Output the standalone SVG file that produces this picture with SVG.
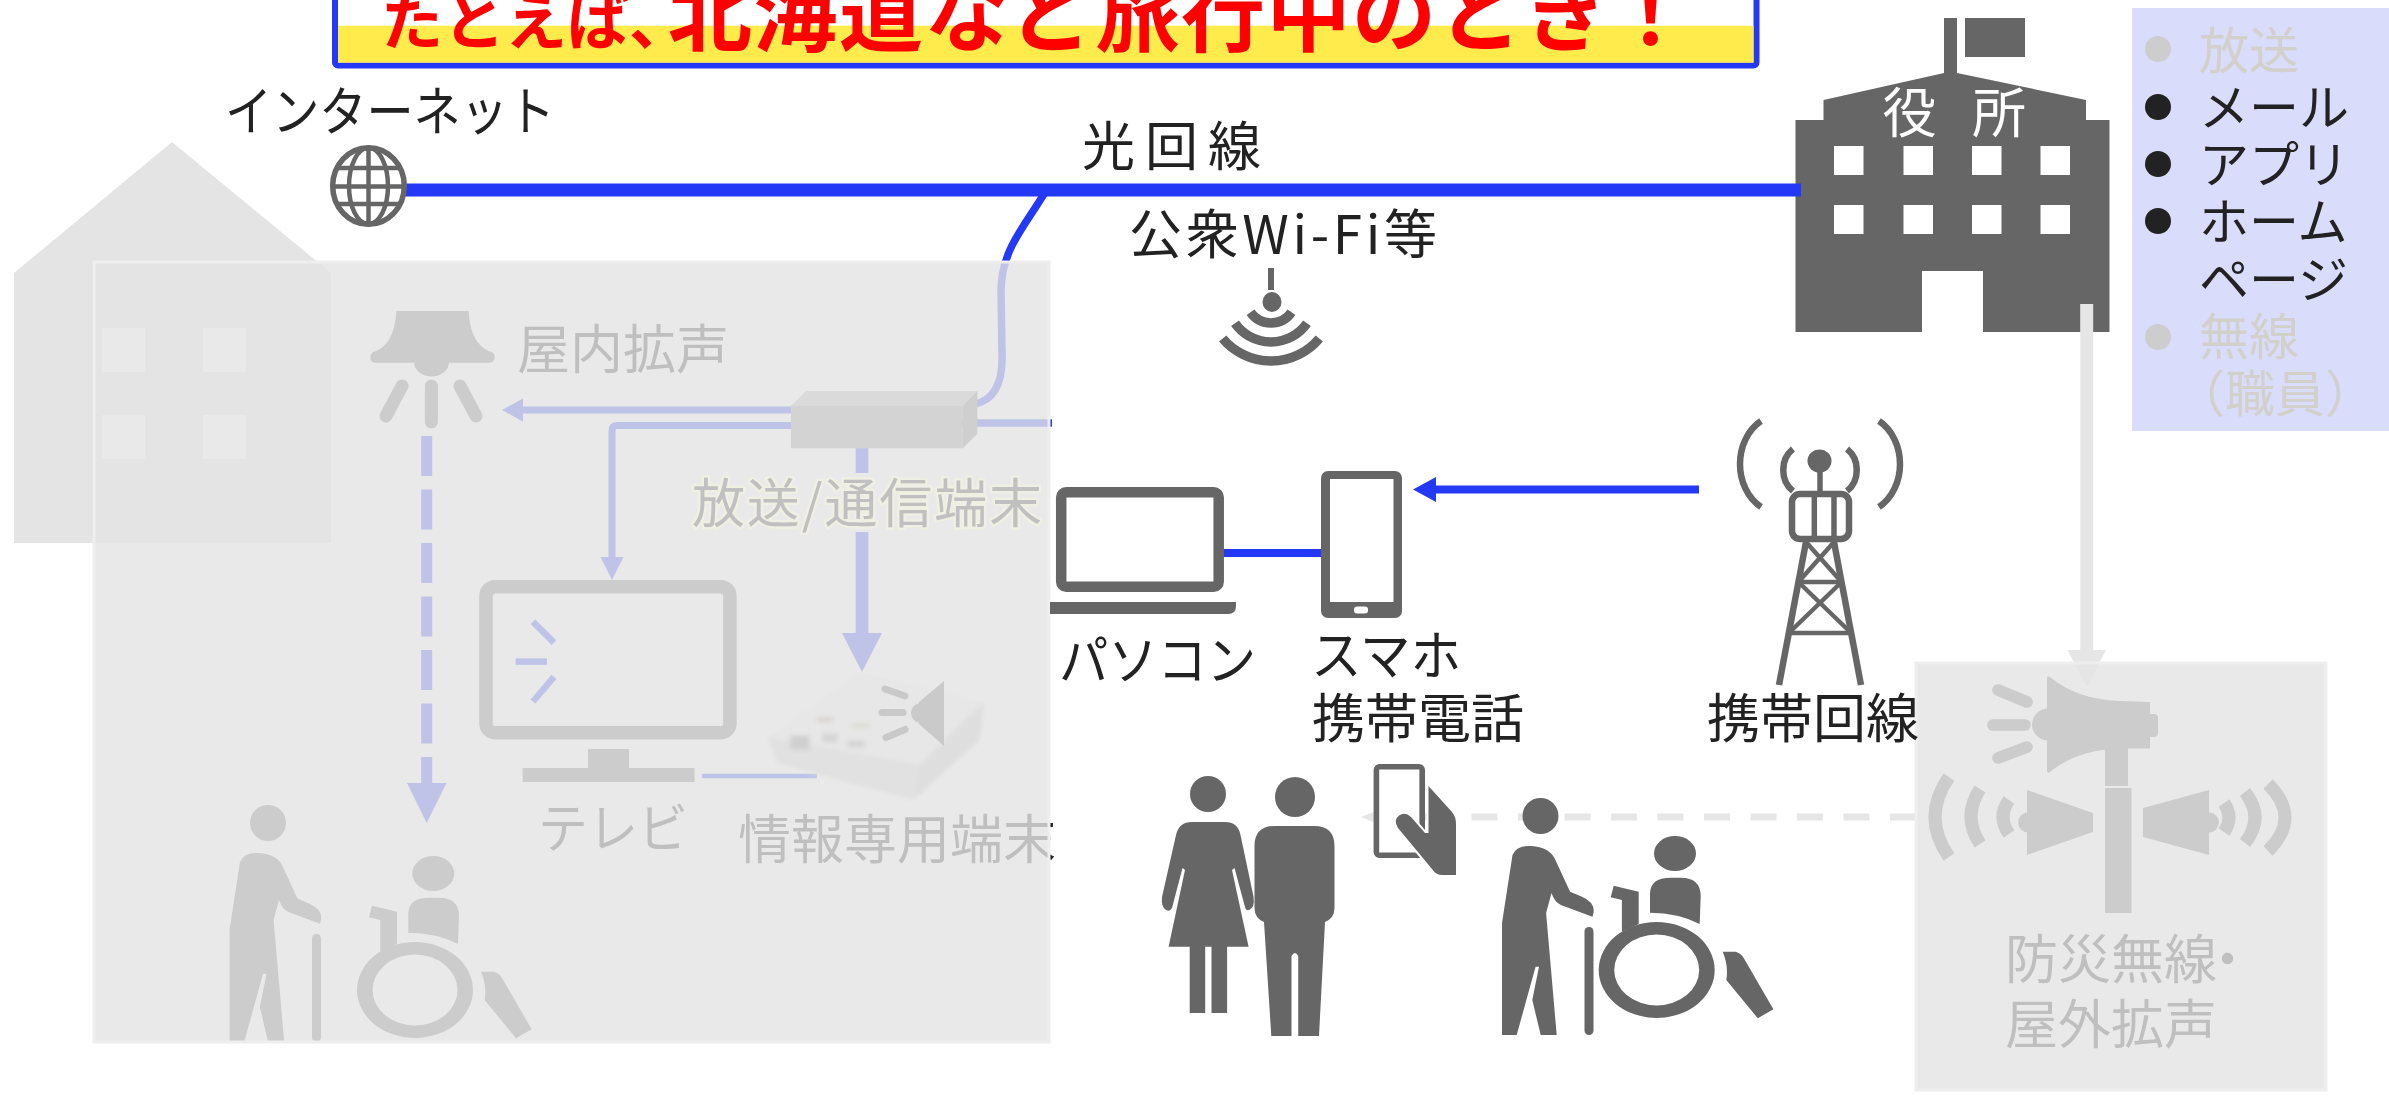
<svg xmlns="http://www.w3.org/2000/svg" xmlns:xlink="http://www.w3.org/1999/xlink" width="2389" height="1096" viewBox="0 0 2389 1096">
  <style>
    .ic{fill:#666}
    .wh{fill:#fff}
    .lbl{font-family:"Noto Sans CJK JP","Noto Sans",sans-serif;font-size:53px;fill:#222}
    .lbl-soft{font-family:"Noto Sans CJK JP","Noto Sans",sans-serif;font-size:53px;fill:#C0C0C0;stroke:#EFEFE4;stroke-width:5px;stroke-linejoin:round;paint-order:stroke}
    .blue{stroke:#2339F5;fill:none}
    .grey{stroke:#E6E6E6;fill:none}
    .veil{fill:#E4E4E4;fill-opacity:.81;stroke:#EEEEEE;stroke-width:3}
    .dim{fill:#D2D0CB}
    .ico-line{fill:none;stroke:#666}
    .ico-line-dk{fill:none;stroke:#565656}
  </style>
  <defs>
    <filter id="soft" x="-10%" y="-10%" width="120%" height="120%">
      <feGaussianBlur stdDeviation="2.2"/>
    </filter>
    <!-- walking senior with cane, origin = head centre -->
    <g id="elder">
      <ellipse cx="0" cy="0" rx="18" ry="18"/>
      <path d="M-38.5,219 L-38.5,107 L-28,39 Q-24,29 -9,30 Q8,31 14,42 L29.6,75.7 L41.5,80.7 Q54,86 53.2,96 L52,100.7 L20.4,89 Q14,86 11,77 L5.6,97 L16.2,219 L0.2,219 L-8.2,184 L-1.5,150.7 L-4.9,150.7 L-23.8,219 Z"/>
      <rect x="44" y="111" width="9" height="108" rx="4.5"/>
    </g>
    <!-- wheelchair user, origin = wheel centre -->
    <g id="wheelchair">
      <ellipse cx="18.3" cy="-116.5" rx="21" ry="17.5"/>
      <path d="M-6.7,-57.3 L-6.7,-76 Q-6.7,-92.3 14,-92.3 L24,-92.3 Q44,-92.3 44,-74 L43,-46 Q22,-57 -6.7,-57.3 Z"/>
      <path d="M-43,-84.3 L-18,-78.3 L-18,-46 L-34.8,-38.3 L-34.8,-70 L-46,-72.7 Z"/>
      <path fill-rule="evenodd" d="M-58,0 A58,48 0 1,0 58,0 A58,48 0 1,0 -58,0 Z M-42.5,0 A42.5,35.5 0 1,0 42.5,0 A42.5,35.5 0 1,0 -42.5,0 Z"/>
      <path d="M66,-18.3 L79,-18.3 Q84,-17 87,-12 L116.7,39.3 L101.1,48.3 L69.6,10 Q72,-4 66,-18.3 Z"/>
    </g>
  </defs>

  <rect width="2389" height="1096" fill="#fff"/>

  <!-- headline banner -->
  <g id="title">
    <rect x="335" y="-10" width="1421.5" height="75.4" rx="3" fill="#fff" stroke="#2339F5" stroke-width="6"/>
    <rect x="338" y="25.7" width="1415.5" height="37" fill="#FFEB4B"/>
    <text x="381" y="45" font-family="'Noto Sans CJK JP','Noto Sans',sans-serif" font-weight="700" fill="#FF0000" font-size="62">たとえば<tspan x="629">、</tspan><tspan x="668" font-size="84" letter-spacing="1.5">北海道など旅行中のとき！</tspan></text>
  </g>

  <!-- delivery channel list -->
  <g id="channel-list">
    <rect x="2132" y="8" width="257" height="423" fill="#D9DCFA"/>
    <circle cx="2158" cy="49" r="13" fill="#CDCDCD"/>
    <circle cx="2158" cy="107" r="13" fill="#222"/>
    <circle cx="2158" cy="164" r="13" fill="#222"/>
    <circle cx="2158" cy="221" r="13" fill="#222"/>
    <circle cx="2158" cy="337" r="13" fill="#CDCDCD"/>
    <g font-family="'Noto Sans CJK JP','Noto Sans',sans-serif" font-size="50">
      <text x="2199" y="68.5" class="dim">放送</text>
      <text x="2199" y="125.8" fill="#222">メール</text>
      <text x="2199" y="183" fill="#222">アプリ</text>
      <text x="2199" y="240.3" fill="#222">ホーム</text>
      <text x="2199" y="297.6" fill="#222">ページ</text>
      <text x="2199" y="355" class="dim">無線</text>
      <text x="2175" y="412.2" class="dim">（職員）</text>
    </g>
  </g>

  <!-- town hall -->
  <g id="town-hall">
    <rect x="1944" y="18" width="13" height="56" class="ic"/>
    <rect x="1965" y="18" width="60" height="39" class="ic"/>
    <path class="ic" d="M1795.5,120 L1823.5,120 L1823.5,100 L1944,73 L1957,73 L2086,100 L2086,120 L2109.5,120 L2109.5,332 L1983,332 L1983,271 L1922,271 L1922,332 L1795.5,332 Z"/>
    <g class="wh">
      <rect x="1834" y="146" width="29.5" height="29"/>
      <rect x="1903.5" y="146" width="29.5" height="29"/>
      <rect x="1972" y="146" width="29.5" height="29"/>
      <rect x="2040.5" y="146" width="29.5" height="29"/>
      <rect x="1834" y="205" width="29.5" height="29"/>
      <rect x="1903.5" y="205" width="29.5" height="29"/>
      <rect x="1972" y="205" width="29.5" height="29"/>
      <rect x="2040.5" y="205" width="29.5" height="29"/>
    </g>
    <g font-family="'Noto Sans CJK JP','Noto Sans',sans-serif" font-size="54" fill="#fff" text-anchor="middle">
      <text x="1909.5" y="133">役</text>
      <text x="1999" y="133">所</text>
    </g>
  </g>

  <!-- house silhouette (behind the veiled home area) -->
  <g id="house">
    <path d="M172,142 L331,273 L331,543 L14,543 L14,273 Z" fill="#E4E4E4"/>
    <g class="wh">
      <rect x="102" y="328" width="43" height="44"/>
      <rect x="203" y="328" width="43" height="44"/>
      <rect x="102" y="415" width="43" height="44"/>
      <rect x="203" y="415" width="43" height="44"/>
    </g>
  </g>

  <!-- connectors -->
  <g id="connectors">
    <line class="blue" x1="405" y1="190" x2="1801" y2="190" stroke-width="13"/>
    <path class="blue" d="M1044,194 C1022,230 1002,250 1001,290 L1002,352 Q1004,398 975,404" stroke-width="7.5"/>
    <line class="blue" x1="962" y1="423" x2="1052" y2="423" stroke-width="7.5"/>
    <line class="blue" x1="795" y1="410" x2="520" y2="410" stroke-width="7"/>
    <polygon points="502,410 523,398.5 523,421.5" fill="#2339F5"/>
    <path class="blue" d="M795,425.5 H617 Q612,425.5 612,431 V561" stroke-width="7"/>
    <polygon points="612,580 600.5,557 623.5,557" fill="#2339F5"/>
    <line class="blue" x1="862" y1="445" x2="862" y2="636" stroke-width="12.7"/>
    <polygon points="862,672 842,633 882,633" fill="#2339F5"/>
    <line class="blue" x1="426.7" y1="436" x2="426.7" y2="784" stroke-width="11" stroke-dasharray="40 13.5"/>
    <polygon points="426.7,823 407,783 446.5,783" fill="#2339F5"/>
    <line class="blue" x1="702" y1="776" x2="817" y2="776" stroke-width="4.5"/>
    <line class="blue" x1="1699" y1="489.5" x2="1432" y2="489.5" stroke-width="8"/>
    <polygon points="1413,489.5 1436,477 1436,502" fill="#2339F5"/>
    <line class="blue" x1="1219" y1="553" x2="1325" y2="553" stroke-width="8"/>
    <line class="grey" x1="2086.7" y1="304" x2="2086.7" y2="652" stroke-width="13"/>
    <polygon points="2067.5,650 2106,650 2086.7,687" fill="#E6E6E6"/>
    <line class="grey" x1="1916" y1="817" x2="1385" y2="817" stroke-width="7" stroke-dasharray="26 20.5"/>
    <polygon points="1361,817 1392,804.5 1392,829.5" fill="#E6E6E6"/>
  </g>

  <!-- home area (shown veiled) -->
  <g id="home-area">
    <g id="indoor-speaker">
      <path class="ic" d="M396.4,311 H468.6 C470,335 478,348 492,352 Q495,354 494.6,358 Q494,362.7 489,362.7 H376 Q370.4,362.7 370.4,358 Q370.4,354 373,352 C387,348 395,335 396.4,311 Z"/>
      <path class="ic" d="M414,362 A17.5,14.5 0 0,0 449,362 Z"/>
      <g class="ico-line" stroke-width="13" stroke-linecap="round">
        <line x1="386" y1="416" x2="402" y2="386"/>
        <line x1="431.4" y1="386" x2="431.4" y2="422"/>
        <line x1="476" y1="416" x2="460" y2="386"/>
      </g>
      <text class="lbl" x="517" y="369">屋内拡声</text>
    </g>
    <g id="gateway">
      <polygon points="791,405.7 806,391 977.3,391 962.7,405.7" fill="#B0B0B0"/>
      <rect x="791" y="405.7" width="171.7" height="42.6" fill="#8C8C8C"/>
      <polygon points="962.7,405.7 977.3,391 977.3,434 962.7,448.3" fill="#737373"/>
      <rect x="690" y="473" width="355" height="59" fill="#fff"/>
    </g>
    <g id="tv">
      <rect x="486" y="586.7" width="243.9" height="146" rx="9" class="ico-line" stroke-width="13.5"/>
      <rect x="588" y="749" width="41" height="20" class="ic"/>
      <rect x="522.6" y="768" width="172" height="14" class="ic"/>
      <g class="blue" stroke-width="6.5">
        <line x1="533" y1="621.7" x2="554" y2="642.6"/>
        <line x1="515.6" y1="661.6" x2="547" y2="661.6"/>
        <line x1="554" y1="676.8" x2="533" y2="701.5"/>
      </g>
      <text class="lbl" x="538" y="848" textLength="150" lengthAdjust="spacingAndGlyphs">テレビ</text>
    </g>
    <g id="info-terminal">
      <g filter="url(#soft)">
        <polygon points="768,737 860,672 984,702 920,765" fill="#F2F2F2"/>
        <polygon points="768,737 920,765 913,800 777,763" fill="#D2D2D2"/>
        <polygon points="920,765 984,702 980,740 913,800" fill="#C4C4C4"/>
        <rect x="790" y="735" width="20" height="15" fill="#7B7B7B"/>
        <rect x="822" y="733" width="16" height="10" fill="#9A9A9A"/>
        <rect x="847" y="740" width="18" height="8" fill="#9A9A9A"/>
        <rect x="817" y="717" width="16" height="5" fill="#C07070"/>
        <rect x="852" y="723" width="18" height="5" fill="#B9B97D"/>
      </g>
      <g fill="#5A5A5A">
        <circle cx="921" cy="713" r="10"/>
        <polygon points="919,702 944,681 944,746 919,724"/>
      </g>
      <g class="ico-line-dk" stroke-width="7" stroke-linecap="round">
        <line x1="885" y1="689" x2="905" y2="696"/>
        <line x1="882" y1="712.5" x2="903" y2="712.5"/>
        <line x1="886" y1="737.5" x2="905" y2="729.5"/>
      </g>
      <text class="lbl" x="738" y="859">情報専用端末</text>
    </g>
    <g id="home-residents" class="ic">
      <use xlink:href="#elder" href="#elder" transform="translate(268,823)"/>
      <use xlink:href="#wheelchair" href="#wheelchair" transform="translate(415,990)"/>
    </g>
  </g>
  <rect id="home-veil" class="veil" x="94" y="262" width="955" height="780"/>
  <text id="gateway-label" class="lbl-soft" x="692" y="523" textLength="350" lengthAdjust="spacing">放送/通信端末</text>

  <!-- outdoor loudspeaker (shown veiled) -->
  <g id="outdoor-speaker">
    <g class="ico-line" stroke-width="11.7" stroke-linecap="round">
      <line x1="1998" y1="690" x2="2027" y2="702"/>
      <line x1="1993" y1="725" x2="2025" y2="725"/>
      <line x1="1998" y1="758" x2="2027" y2="747"/>
    </g>
    <path class="ic" d="M2047,678 Q2047,675 2050,677 C2067,691 2090,700 2120,701 L2150,702 L2150,714 L2154,714 Q2158,714 2158,718 L2158,733 Q2158,737 2154,737 L2150,737 L2150,748.5 L2120,748.5 C2090,749.5 2067,758 2050,772 Q2047,774 2047,771 Z"/>
    <circle cx="2048" cy="724.5" r="16" class="ic"/>
    <rect x="2105" y="748" width="23" height="38" class="ic"/>
    <rect x="2105" y="788" width="26.5" height="125" class="ic"/>
    <polygon points="2027,790 2093,813 2093,832 2027,855" class="ic"/>
    <circle cx="2028" cy="822.5" r="10" class="ic"/>
    <polygon points="2209,790 2143,808 2143,837 2209,855" class="ic"/>
    <circle cx="2209" cy="822.5" r="10" class="ic"/>
    <g class="ico-line" stroke-width="13">
      <path d="M2009,800 Q1997,817 2009,834"/>
      <path d="M1980,789 Q1962,816.5 1980,844"/>
      <path d="M1949,777 Q1921,817 1949,857"/>
      <path d="M2224,803 Q2234,817.5 2224,832"/>
      <path d="M2245,792 Q2265,817.5 2245,843"/>
      <path d="M2268,784 Q2302,817.5 2268,851"/>
    </g>
    <text class="lbl" x="2005" y="979">防災無線<tspan dx="-16">・</tspan></text>
    <text class="lbl" x="2005" y="1044">屋外拡声</text>
  </g>
  <rect id="outdoor-veil" class="veil" x="1916" y="663" width="410" height="427"/>

  <!-- internet -->
  <g id="internet">
    <g class="ico-line">
      <ellipse cx="368.5" cy="186" rx="35.8" ry="38.3" stroke-width="5.5"/>
      <ellipse cx="368.5" cy="186" rx="19.5" ry="38.3" stroke-width="4.5"/>
      <line x1="368.5" y1="148" x2="368.5" y2="224" stroke-width="4.5"/>
      <line x1="337" y1="168" x2="400" y2="168" stroke-width="4.5"/>
      <line x1="333" y1="186.5" x2="404" y2="186.5" stroke-width="4.5"/>
      <line x1="337" y1="204" x2="400" y2="204" stroke-width="4.5"/>
    </g>
    <text class="lbl" x="225" y="131" textLength="330" lengthAdjust="spacingAndGlyphs">インターネット</text>
  </g>

  <text id="fiber-label" class="lbl" x="1082" y="166" letter-spacing="10">光回線</text>

  <!-- public Wi-Fi -->
  <g id="public-wifi">
    <text class="lbl" x="1129" y="254" textLength="308" lengthAdjust="spacing">公衆Wi-Fi等</text>
    <line x1="1271" y1="268" x2="1271" y2="290" class="ico-line" stroke-width="6"/>
    <ellipse cx="1272" cy="302" rx="9.5" ry="10" class="ic"/>
    <g class="ico-line" stroke-width="9.5">
      <path d="M1250.5,312.3 A25,25 0 0,0 1291.5,312.3"/>
      <path d="M1235,323.3 A44,44 0 0,0 1307,323.3"/>
      <path d="M1222.7,338.5 A63,63 0 0,0 1319.3,338.5"/>
    </g>
  </g>

  <!-- PC -->
  <g id="pc">
    <rect x="1061.2" y="492.3" width="157.5" height="94.5" rx="5" fill="#fff" stroke="#666" stroke-width="10.5"/>
    <path class="ic" d="M1050,602 H1236 V606 Q1236,614 1228,614 H1050 Z"/>
    <text class="lbl" x="1059" y="680" textLength="197" lengthAdjust="spacingAndGlyphs">パソコン</text>
  </g>

  <!-- smartphone -->
  <g id="smartphone">
    <rect x="1321" y="471" width="81" height="147" rx="7" class="ic"/>
    <rect x="1330" y="479" width="63.5" height="123" class="wh"/>
    <rect x="1354" y="606.5" width="14" height="7" rx="3" class="wh"/>
    <text class="lbl" x="1311" y="675" textLength="150" lengthAdjust="spacingAndGlyphs">スマホ</text>
    <text class="lbl" x="1312" y="738">携帯電話</text>
  </g>

  <!-- mobile base station -->
  <g id="cell-tower">
    <g class="ico-line" stroke-width="6.5">
      <path d="M1761,421 C1733,440 1733,488 1761,507"/>
      <path d="M1793,449 C1780,459 1780,481 1793,491"/>
      <path d="M1879,421 C1907,440 1907,488 1879,507"/>
      <path d="M1847,449 C1860,459 1860,481 1847,491"/>
      <rect x="1792" y="494" width="57" height="45" rx="8"/>
      <line x1="1779" y1="685" x2="1806" y2="542"/>
      <line x1="1861" y1="685" x2="1834" y2="542"/>
    </g>
    <ellipse cx="1819.5" cy="461" rx="12" ry="11.5" class="ic"/>
    <g class="ico-line" stroke-width="5.5">
      <line x1="1820" y1="470" x2="1820" y2="494"/>
      <line x1="1814.3" y1="494" x2="1814.3" y2="539"/>
      <line x1="1834" y1="494" x2="1834" y2="539"/>
    </g>
    <g class="ico-line" stroke-width="4.5">
      <line x1="1806" y1="542" x2="1841.6" y2="582"/>
      <line x1="1834" y1="542" x2="1798.4" y2="582"/>
      <line x1="1798.4" y1="582" x2="1841.6" y2="582"/>
      <line x1="1798.4" y1="582" x2="1851.2" y2="633"/>
      <line x1="1841.6" y1="582" x2="1788.8" y2="633"/>
      <line x1="1788.8" y1="633" x2="1851.2" y2="633"/>
    </g>
    <text class="lbl" x="1707" y="738">携帯回線</text>
  </g>

  <!-- travellers -->
  <g id="travellers" class="ic">
    <ellipse cx="1208" cy="794" rx="18" ry="18"/>
    <path d="M1192,822 L1225,822 Q1238,822 1240.5,835 L1253.6,897 Q1255,908 1249,910 Q1246,911 1245,907 L1234.5,868 L1232,870 L1248.6,946.7 L1168.6,946.7 L1185,870 L1182.5,868 L1172,908 Q1170,912 1166,910 Q1161,907 1162,897 L1176,835 Q1179,822 1192,822 Z"/>
    <rect x="1189.7" y="945" width="15.5" height="68"/>
    <rect x="1211.5" y="945" width="15.6" height="68"/>
    <ellipse cx="1295" cy="797" rx="20" ry="20"/>
    <path d="M1275,826 L1314,826 Q1334.5,826 1334.5,846 L1334.5,908 Q1334.5,918 1325,922 L1319,1036 L1298.2,1036 L1298.2,956 Q1295,950 1291.5,956 L1291.5,1036 L1271.3,1036 L1264,922 Q1254.5,918 1254.5,908 L1254.5,846 Q1254.5,826 1275,826 Z"/>
  </g>

  <!-- phone in hand -->
  <g id="handheld-phone">
    <rect x="1376.4" y="766.8" width="45.8" height="88.4" rx="3" fill="#fff" stroke="#666" stroke-width="5.6"/>
    <path class="ic" stroke="#fff" stroke-width="4" paint-order="stroke" d="M1428.5,786 L1452,812 Q1456,817 1456,824 L1456,875 L1442,875 Q1436,875 1432,869 L1398,828 Q1393,820 1399,815.5 Q1405,811.5 1411,817 L1425,833 L1428.5,833 Z"/>
  </g>

  <!-- senior and wheelchair user outdoors -->
  <g id="outdoor-residents" class="ic">
    <use xlink:href="#elder" href="#elder" transform="translate(1540.5,816)"/>
    <use xlink:href="#wheelchair" href="#wheelchair" transform="translate(1656.7,970)"/>
  </g>
</svg>
